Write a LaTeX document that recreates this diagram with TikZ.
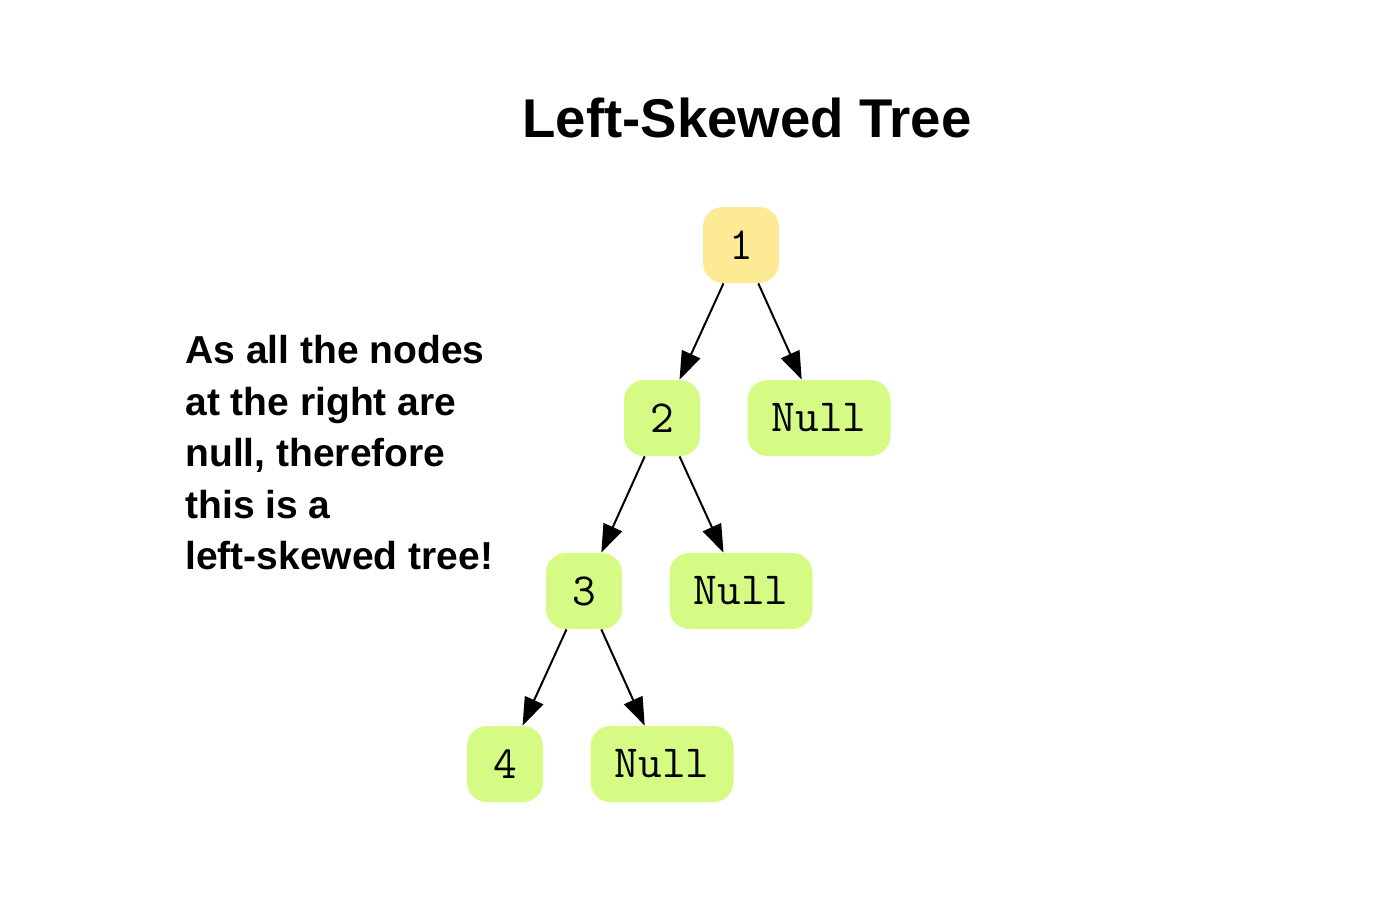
\documentclass[tikz,border=0pt]{standalone}
\usepackage{fontspec}
\setmainfont{Liberation Sans}
\usetikzlibrary{arrows.meta}
\definecolor{rootfill}{HTML}{FCEA94}
\definecolor{leaffill}{HTML}{D6FB85}
\tikzset{
  treenode/.style={rounded corners=10pt, minimum width=38pt, minimum height=38pt, inner sep=0pt,
    fill=leaffill, font=\ttfamily\fontsize{23}{26}\selectfont},
  nullnode/.style={treenode, minimum width=71.5pt},
  link/.style={-{Triangle[length=14pt,width=10pt]}, line width=1pt},
}
\begin{document}
\begin{tikzpicture}[x=0.5pt, y=-0.5pt]
  \useasboundingbox (0,0) rectangle (1400,904);
  % title and note
  \node[anchor=base, inner sep=0pt, font=\bfseries\fontsize{27.3}{32}\selectfont] (title) at (747,137) {Left-Skewed Tree};
  \node[anchor=north west, align=left, inner sep=0pt, font=\bfseries\fontsize{19.5}{25.75}\selectfont] (note) at (185,335)
    {As all the nodes\\at the right are\\null, therefore\\this is a\\left-skewed tree!};
  % tree
  \node[treenode, fill=rootfill] (n1) at (741,245) {1};
  \node[treenode] (n2) at (662,418) {2};
  \node[nullnode] (r1) at (819,418) {Null};
  \node[treenode] (n3) at (584,591) {3};
  \node[nullnode] (r2) at (741,591) {Null};
  \node[treenode] (n4) at (505,764) {4};
  \node[nullnode] (r3) at (662,764) {Null};
  \draw[link] (n1) -- (n2);
  \draw[link] (n1) -- (r1);
  \draw[link] (n2) -- (n3);
  \draw[link] (n2) -- (r2);
  \draw[link] (n3) -- (n4);
  \draw[link] (n3) -- (r3);
\end{tikzpicture}
\end{document}
